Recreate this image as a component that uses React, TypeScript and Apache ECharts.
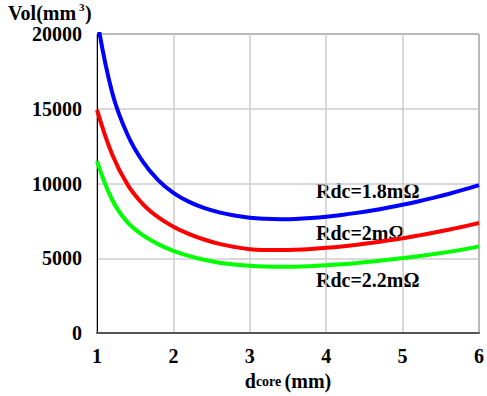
import React, { useEffect, useRef } from "react";
import * as echarts from "echarts";

const dCore = [1.0, 1.2, 1.4, 1.6, 1.8, 2.0, 2.2, 2.4, 2.6, 2.8, 3.0, 3.2, 3.4, 3.6, 3.8, 4.0, 4.2, 4.4, 4.6, 4.8, 5.0, 5.2, 5.4, 5.6, 5.8, 6.0];
const volRdc18 = [21000, 16060, 13260, 11460, 10230, 9380, 8790, 8370, 8070, 7860, 7710, 7640, 7615, 7630, 7690, 7780, 7900, 8040, 8200, 8380, 8580, 8800, 9040, 9300, 9590, 9900];
const volRdc20 = [14930, 11930, 9930, 8630, 7750, 7110, 6630, 6260, 5970, 5760, 5610, 5560, 5550, 5570, 5620, 5700, 5795, 5910, 6040, 6185, 6345, 6520, 6710, 6915, 7130, 7360];
const volRdc22 = [11500, 8900, 7400, 6550, 5950, 5500, 5160, 4900, 4710, 4590, 4500, 4450, 4430, 4440, 4480, 4530, 4600, 4690, 4790, 4900, 5015, 5140, 5280, 5430, 5600, 5800];

const seriesNames = ["Rdc=1.8mΩ", "Rdc=2mΩ", "Rdc=2.2mΩ"];
const seriesColors = ["#0000ff", "#ff0000", "#00ff00"];

const FONT = "Liberation Serif";

function pairs(xs: number[], ys: number[]) {
  return xs.map((x, i) => [x, ys[i]]);
}

export default function App() {
  const ref = useRef<HTMLDivElement>(null);
  useEffect(() => {
    if (!ref.current) return;
    const chart = echarts.init(ref.current, null, { renderer: "svg" });
    const datasets = [pairs(dCore, volRdc18), pairs(dCore, volRdc20), pairs(dCore, volRdc22)];
    const txt = (text: string, left: number, top: number, size = 20) => ({
      type: "text",
      left,
      top,
      style: { text, fontFamily: FONT, fontWeight: "bold", fontSize: size, fill: "#000" },
    });
    chart.setOption({
      animation: false,
      backgroundColor: "#ffffff",
      grid: {
        left: 97,
        right: 4,
        top: 34,
        bottom: 62,
        show: true,
        borderColor: "#000000",
        borderWidth: 1,
      },
      xAxis: {
        type: "value",
        min: 1,
        max: 6,
        interval: 1,
        name: "{d|d}{s|core} {d|(mm)}",
        nameLocation: "middle",
        nameGap: 37,
        nameTextStyle: {
          rich: {
            d: { fontFamily: FONT, fontWeight: "bold", fontSize: 20, color: "#000" },
            s: { fontFamily: FONT, fontWeight: "bold", fontSize: 14, color: "#000" },
          },
        },
        axisLine: { show: true, onZero: false, lineStyle: { color: "#555555", width: 2 } },
        axisTick: { show: false },
        splitLine: { show: true, lineStyle: { color: "#cccccc", width: 1.5 } },
        axisLabel: {
          margin: 13,
          fontFamily: FONT,
          fontWeight: "bold",
          fontSize: 20,
          color: "#000000",
        },
      },
      yAxis: {
        type: "value",
        min: 0,
        max: 20000,
        interval: 5000,
        axisLine: { show: true, lineStyle: { color: "#000000", width: 1 } },
        axisTick: { show: false },
        splitLine: { show: true, lineStyle: { color: "#cccccc", width: 1.5 } },
        axisLabel: {
          margin: 15,
          fontFamily: FONT,
          fontWeight: "bold",
          fontSize: 20,
          color: "#000000",
          formatter: (v: number) => String(v),
        },
      },
      graphic: [
        txt("Vol(mm", 8, 3),
        txt("3", 79, 1, 11),
        txt(")", 85, 3),
        txt(seriesNames[0], 316, 181),
        txt(seriesNames[1], 316, 223),
        txt(seriesNames[2], 316, 270),
      ],
      series: datasets.map((d, i) => ({
        type: "line",
        name: seriesNames[i],
        data: d,
        smooth: 0.4,
        clip: true,
        showSymbol: false,
        symbol: "none",
        lineStyle: { color: seriesColors[i], width: 4 },
        itemStyle: { color: seriesColors[i] },
      })),
    });
    return () => chart.dispose();
  }, []);
  return (
    <div
      ref={ref}
      style={{ position: "fixed", left: 0, top: 0, width: 487, height: 396, background: "#fff" }}
    />
  );
}
